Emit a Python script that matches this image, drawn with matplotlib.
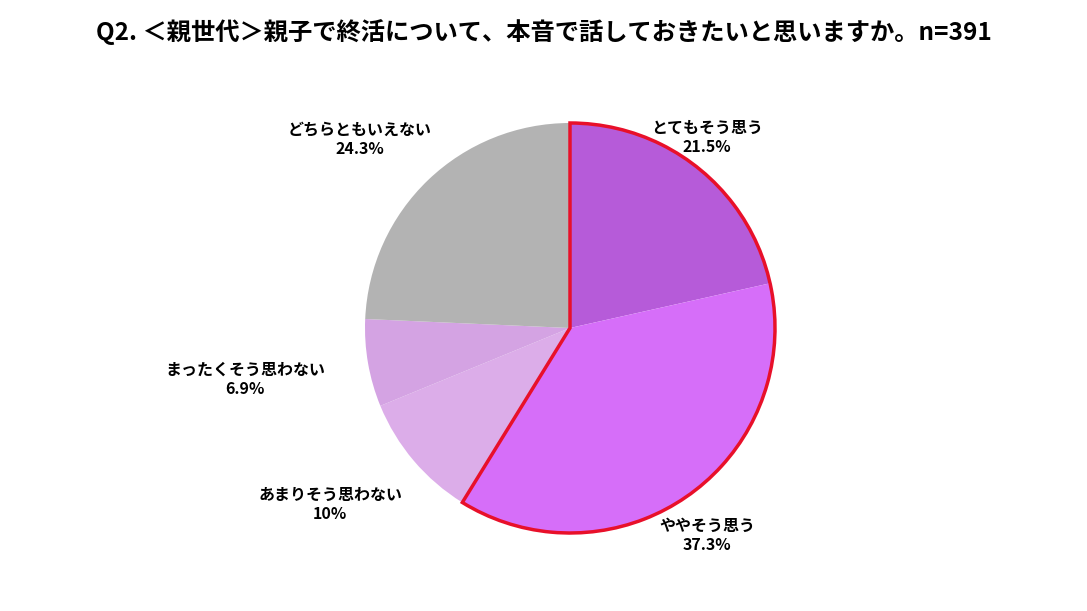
import matplotlib
matplotlib.use("Agg")
import matplotlib.pyplot as plt
from matplotlib.patches import Wedge

plt.rcParams["font.family"] = ["Noto Sans CJK JP", "DejaVu Sans"]

TITLE = "Q2. ＜親世代＞親子で終活について、本音で話しておきたいと思いますか。n=391"
LABELS = ["とてもそう思う", "ややそう思う", "あまりそう思わない", "まったくそう思わない", "どちらともいえない"]
VALUES = [21.5, 37.3, 10.0, 6.9, 24.3]
PCT_TEXT = ["21.5%", "37.3%", "10%", "6.9%", "24.3%"]
COLORS = ["#b65bd9", "#d66ef9", "#dcade9", "#d4a3e3", "#b3b3b3"]
LABEL_POS = [(0.668, 0.93), (0.668, -1.01), (-1.17, -0.86), (-1.585, -0.25), (-1.024, 0.92)]

W, H = 1087, 611
fig = plt.figure(figsize=(W / 100, H / 100), dpi=100)
cx, cy, r = 570, 328, 205
ax = fig.add_axes([(cx - r) / W, 1 - (cy + r) / H, 2 * r / W, 2 * r / H])

ax.pie(VALUES, colors=COLORS, startangle=90, counterclock=False,
       wedgeprops=dict(linewidth=0), radius=1)
ax.set_xlim(-1, 1)
ax.set_ylim(-1, 1)
ax.set_aspect("equal")

# red outline around the "agree" group
total = sum(VALUES)
end = 90 - (VALUES[0] + VALUES[1]) / total * 360
ax.add_patch(Wedge((0, 0), 1, end, 90, fill=False, edgecolor="#e8102a",
                   linewidth=2.5, clip_on=False))

for lab, pct, (x, y) in zip(LABELS, PCT_TEXT, LABEL_POS):
    ax.text(x, y, f"{lab}\n{pct}", ha="center", va="center", fontsize=11.5,
            fontweight="bold", linespacing=1.25, clip_on=False)

fig.text(0.5, 1 - 32 / H, TITLE, ha="center", va="center", fontsize=17.5, fontweight="bold")
fig.savefig("out.png", dpi=100)
